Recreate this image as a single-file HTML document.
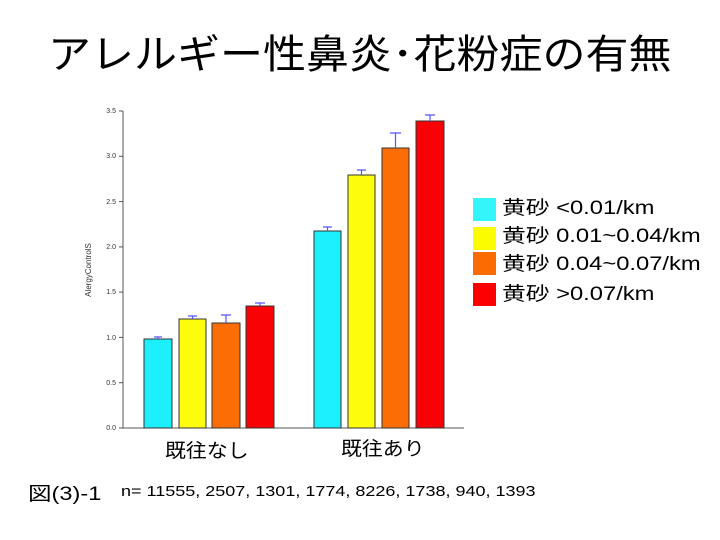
<!DOCTYPE html><html><head><meta charset="utf-8"><style>
body{margin:0;width:720px;height:540px;background:#fff;overflow:hidden;position:relative;font-family:"Liberation Sans","Noto Sans CJK JP",sans-serif}
.t{position:absolute;white-space:nowrap;transform-origin:0 0}
</style></head><body>
<div class="t" style="left:48px;top:32px;font-size:40px;line-height:46px;transform:scaleX(1.075)">アレルギー性鼻炎･花粉症の有無</div>
<svg width="720" height="540" style="position:absolute;left:0;top:0" font-family="Liberation Sans, sans-serif">
<g stroke="#555" stroke-width="1" fill="none">
<line x1="123" y1="111" x2="123" y2="428"/>
<line x1="123" y1="428" x2="464" y2="428"/>
<line x1="119" y1="111" x2="123" y2="111"/><line x1="119" y1="156.3" x2="123" y2="156.3"/><line x1="119" y1="201.6" x2="123" y2="201.6"/><line x1="119" y1="246.9" x2="123" y2="246.9"/><line x1="119" y1="292.1" x2="123" y2="292.1"/><line x1="119" y1="337.4" x2="123" y2="337.4"/><line x1="119" y1="382.7" x2="123" y2="382.7"/><line x1="119" y1="428" x2="123" y2="428"/>
</g>
<g font-size="7" fill="#333" text-anchor="end">
<text x="116" y="113">3.5</text><text x="116" y="158">3.0</text><text x="116" y="204">2.5</text><text x="116" y="249">2.0</text><text x="116" y="294">1.5</text><text x="116" y="340">1.0</text><text x="116" y="385">0.5</text><text x="116" y="430">0.0</text>
</g>
<text transform="translate(91,270) rotate(-90)" font-size="8" fill="#333" text-anchor="middle">AlergyControlS</text>
<g stroke="#333" stroke-width="1">
<rect x="144" y="339" width="28" height="89" fill="#1ceffc"/>
<rect x="179" y="319" width="27" height="109" fill="#fcfc0c"/>
<rect x="212" y="323" width="28" height="105" fill="#fc6d05"/>
<rect x="246" y="306" width="28" height="122" fill="#f80206"/>
<rect x="314" y="231" width="27" height="197" fill="#1ceffc"/>
<rect x="348" y="175" width="27" height="253" fill="#fcfc0c"/>
<rect x="382" y="148" width="27" height="280" fill="#fc6d05"/>
<rect x="416" y="121" width="28" height="307" fill="#f80206"/>
</g>
<g stroke="#55f" stroke-width="1.2">
<path d="M158 339V337M154 337H162"/><path d="M192.5 319V316M188 316H197"/><path d="M226 323V315M221 315H231"/><path d="M260 306V303M255 303H265"/>
<path d="M327.5 231V227M323 227H332"/><path d="M361.5 175V170M357 170H366"/><path d="M395.5 148V133M390 133H401"/><path d="M430 121V115M425 115H435"/>
</g>
<rect x="473" y="198" width="23" height="23" fill="#33f5fa"/>
<rect x="473" y="227" width="23" height="23" fill="#fcfc00"/>
<rect x="473" y="252" width="23" height="23" fill="#fc6a02"/>
<rect x="473" y="283" width="23" height="23" fill="#fc0000"/>
</svg>
<div class="t" style="left:502px;top:198px;font-size:19px;line-height:22px;transform:scaleX(1.25)">黄砂 &lt;0.01/km</div>
<div class="t" style="left:502px;top:226px;font-size:19px;line-height:22px;transform:scaleX(1.25)">黄砂 0.01~0.04/km</div>
<div class="t" style="left:502px;top:254px;font-size:19px;line-height:22px;transform:scaleX(1.25)">黄砂 0.04~0.07/km</div>
<div class="t" style="left:502px;top:284px;font-size:19px;line-height:22px;transform:scaleX(1.25)">黄砂 &gt;0.07/km</div>
<div class="t" style="left:165px;top:440px;font-size:19px;line-height:24px;transform:scaleX(1.1)">既往なし</div>
<div class="t" style="left:341px;top:438px;font-size:19px;line-height:24px;transform:scaleX(1.1)">既往あり</div>
<div class="t" style="left:28px;top:483px;font-size:19px;line-height:24px;transform:scaleX(1.24)">図(3)-1</div>
<div class="t" style="left:121px;top:483px;font-size:15px;line-height:18px;transform:scaleX(1.2)">n= 11555, 2507, 1301, 1774, 8226, 1738, 940, 1393</div>
</body></html>
